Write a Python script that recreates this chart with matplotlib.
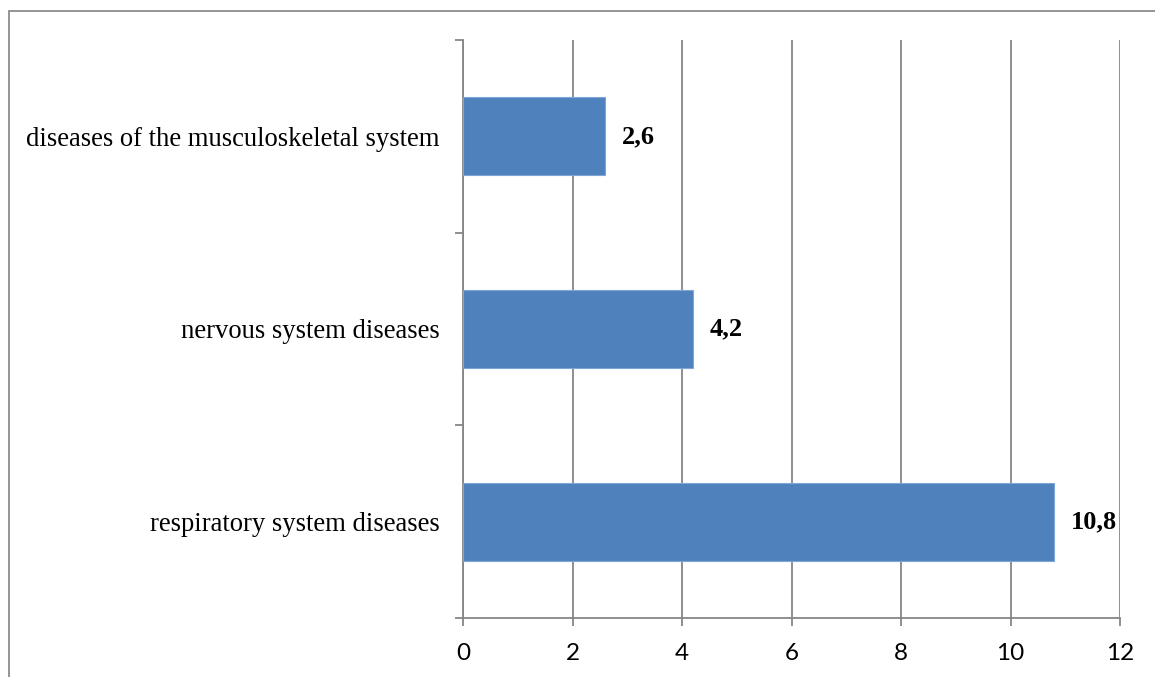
import matplotlib
matplotlib.use("Agg")
import matplotlib.pyplot as plt
import numpy as np
from matplotlib.patches import Rectangle

# categories listed top to bottom
categories = ["diseases of the musculoskeletal system",
              "nervous system diseases",
              "respiratory system diseases"]
values = [2.6, 4.2, 10.8]
value_labels = ["2,6", "4,2", "10,8"]
x_ticks = [0, 2, 4, 6, 8, 10, 12]

bar_color = "#4F81BD"
grid_color = "#868686"

fig = plt.figure(figsize=(11.55, 6.77), dpi=100)
ax = fig.add_axes([463 / 1155, 1 - 618 / 677, (1120 - 463) / 1155, (618 - 40) / 677])

pos = np.arange(len(categories))
ax.barh(pos, values, height=0.405, color=bar_color, edgecolor="#7FA6D6", linewidth=0.8, zorder=3)

for p, v, lab in zip(pos, values, value_labels):
    ax.text(v + 0.3, p, lab, va="center", ha="left", family="Liberation Serif",
            fontweight="bold", fontsize=19, color="black")

ax.set_xlim(0, 12)
ax.set_ylim(len(categories) - 0.5, -0.5)
ax.set_xticks(x_ticks)
ax.set_xticklabels([str(t) for t in x_ticks], family="Lato", fontsize=17.5)
ax.set_yticks(pos)
ax.set_yticklabels(categories, family="Liberation Serif", fontsize=19.2)
ax.set_yticks(np.arange(-0.5, len(categories), 1.0), minor=True)

ax.tick_params(axis="y", which="major", length=0, pad=17)
ax.tick_params(axis="y", which="minor", length=5.5, width=1.3, color=grid_color)
ax.tick_params(axis="x", length=5.8, width=1.3, color=grid_color, pad=12)

ax.grid(axis="x", color=grid_color, linewidth=1.3, zorder=0)
ax.set_axisbelow(True)
for s in ["top", "right"]:
    ax.spines[s].set_visible(False)
for s in ["left", "bottom"]:
    ax.spines[s].set_color(grid_color)
    ax.spines[s].set_linewidth(1.3)

# chart frame (cut off at right and bottom)
fig.patches.append(Rectangle((8.5 / 1155, -0.1), 1.2, 1.1 - 10.5 / 677, transform=fig.transFigure,
                             fill=False, edgecolor="#8C8C8C", linewidth=1.3))

fig.savefig("out.png", dpi=100)
